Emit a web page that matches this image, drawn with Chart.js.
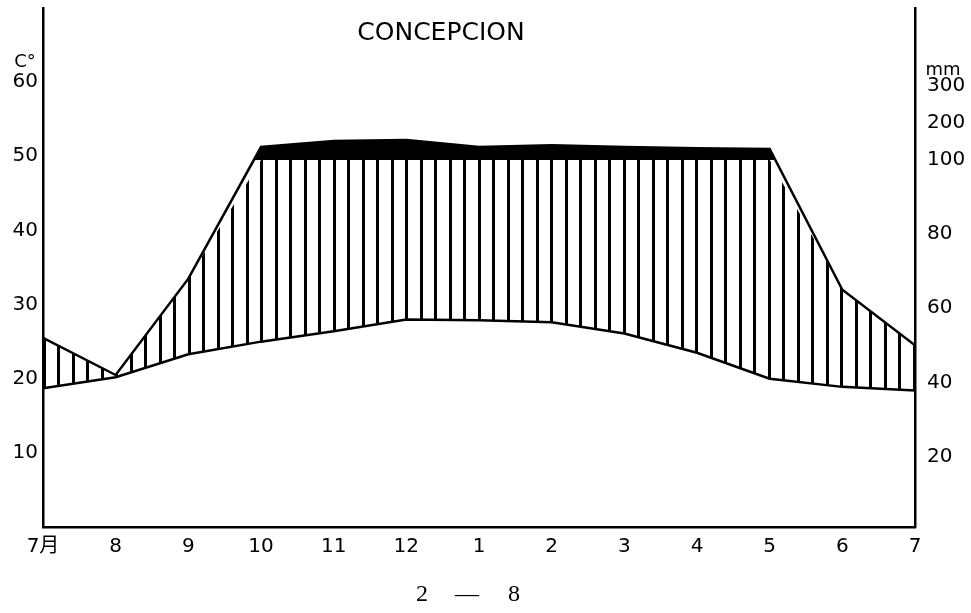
<!DOCTYPE html>
<html>
<head>
<meta charset="utf-8">
<script src="https://cdn.jsdelivr.net/npm/chart.js@4.4.0/dist/chart.umd.min.js"></script>
<style>
    html, body { margin: 0; padding: 0; background: #fff; }
    #wrap { position: relative; width: 971px; height: 613px; }
</style>
</head>
<body>
<div id="wrap"><canvas id="climate-chart"></canvas></div>
<script>
// 月 (7月 ~ 7月)
const months = ['7月', '8', '9', '10', '11', '12', '1', '2', '3', '4', '5', '6', '7'];
// 月平均気温 (°C)
const temperature = [18.7, 20.2, 23.3, 25.0, 26.4, 28.0, 27.9, 27.6, 26.1, 23.5, 20.0, 18.9, 18.4];
// 月降水量 (mm)
const precipitation = [52, 42, 68, 135, 151, 154, 135, 140, 135, 132, 130, 65, 50];
// 目盛
const tempTicks = [10, 20, 30, 40, 50, 60];
const rainTicks = [20, 40, 60, 80, 100, 200, 300];

const stationName = 'CONCEPCION';
const figureNo = ['2', '—', '8'];

// 降水量 -> 右軸の値 (100mm まで 2mm = 1, それ以上は 20mm = 1)
function rainToScale(mm) {
    return mm <= 100 ? mm / 2 : 50 + (mm - 100) / 20;
}

const rainScaled = precipitation.map(rainToScale);
const rainCapped = rainScaled.map(v => Math.min(v, 50));

const tempPoints = temperature.map((v, i) => ({ x: i, y: v }));
const rainPoints = rainScaled.map((v, i) => ({ x: i, y: v }));
const cappedPoints = rainCapped.map((v, i) => ({ x: i, y: v }));

// 縦線ハッチング
function makeHatch() {
    const c = document.createElement('canvas');
    c.width = 29;
    c.height = 8;
    const g = c.getContext('2d');
    g.fillStyle = '#000';
    g.fillRect(0, 0, 2, 8);
    g.fillRect(14, 0, 3, 8);
    g.fillRect(28, 0, 1, 8);
    return g.createPattern(c, 'repeat');
}

const labelFont = { family: '"DejaVu Sans", "Noto Sans CJK JP", sans-serif', size: 20 };

const textPlugin = {
    id: 'texts',
    afterDraw(chart) {
        const { ctx, scales } = chart;
        ctx.save();
        ctx.fillStyle = '#000';
        ctx.textAlign = 'center';
        ctx.textBaseline = 'middle';

        ctx.font = '25px "DejaVu Sans"';
        ctx.fillText(stationName, 441, 33);

        ctx.font = '18px "DejaVu Sans"';
        ctx.fillText('C°', 25, scales.y.getPixelForValue(60) - 20);
        ctx.fillText('mm', 943, scales.y.getPixelForValue(60) - 12);

        ctx.font = '24px "Liberation Serif"';
        ctx.fillText(figureNo[0], 422, 595);
        ctx.fillText(figureNo[1], 467, 595);
        ctx.fillText(figureNo[2], 514, 595);
        ctx.restore();
    }
};

function noPad(scale) {
    scale.paddingTop = 0;
    scale.paddingBottom = 0;
}

new Chart(document.getElementById('climate-chart'), {
    type: 'line',
    data: {
        datasets: [{
            label: 'temperature',
            data: tempPoints,
            borderColor: '#000',
            borderWidth: 2.5,
            pointRadius: 0,
            tension: 0,
            fill: false
        }, {
            label: 'precipitation',
            data: rainPoints,
            yAxisID: 'y2',
            borderColor: '#000',
            borderWidth: 2.5,
            pointRadius: 0,
            tension: 0,
            fill: { target: { value: 50 }, above: '#000', below: 'rgba(0,0,0,0)' }
        }, {
            label: 'humid',
            data: cappedPoints,
            yAxisID: 'y2',
            borderWidth: 0,
            borderColor: 'rgba(0,0,0,0)',
            pointRadius: 0,
            tension: 0,
            fill: { target: 0, above: makeHatch(), below: 'rgba(0,0,0,0)' }
        }]
    },
    options: {
        responsive: true,
        maintainAspectRatio: false,
        animation: false,
        layout: { padding: { top: 8, left: 0, right: 0, bottom: 0 } },
        plugins: {
            legend: { display: false },
            tooltip: { enabled: false }
        },
        scales: {
            x: {
                type: 'linear',
                min: 0,
                max: 12,
                afterBuildTicks(scale) {
                    scale.ticks = months.map((m, i) => ({ value: i }));
                },
                afterFit(scale) {
                    scale.height = 86;
                    scale.paddingLeft = 0;
                    scale.paddingRight = 0;
                },
                ticks: {
                    autoSkip: false,
                    maxRotation: 0,
                    padding: 8,
                    color: '#000',
                    font: labelFont,
                    callback: v => months[v]
                },
                grid: { display: false, drawTicks: false },
                border: { display: true, color: '#000', width: 2.5 }
            },
            y: {
                position: 'left',
                min: 0,
                max: 70,
                afterBuildTicks(scale) {
                    scale.ticks = tempTicks.map(v => ({ value: v }));
                },
                afterFit(scale) {
                    scale.width = 43;
                    noPad(scale);
                },
                ticks: { padding: 5, color: '#000', font: labelFont },
                grid: { display: false, drawTicks: false },
                border: { display: true, color: '#000', width: 2.5 }
            },
            y2: {
                position: 'right',
                min: 0.501,
                max: 70.501,
                afterBuildTicks(scale) {
                    scale.ticks = rainTicks.map(v => ({ value: rainToScale(v) }));
                },
                afterFit(scale) {
                    scale.width = 56;
                    noPad(scale);
                },
                ticks: {
                    padding: 12,
                    color: '#000',
                    font: labelFont,
                    callback: (v, i) => rainTicks[i]
                },
                grid: { display: false, drawTicks: false },
                border: { display: true, color: '#000', width: 2.5 }
            }
        }
    },
    plugins: [textPlugin]
});
</script>
</body>
</html>
